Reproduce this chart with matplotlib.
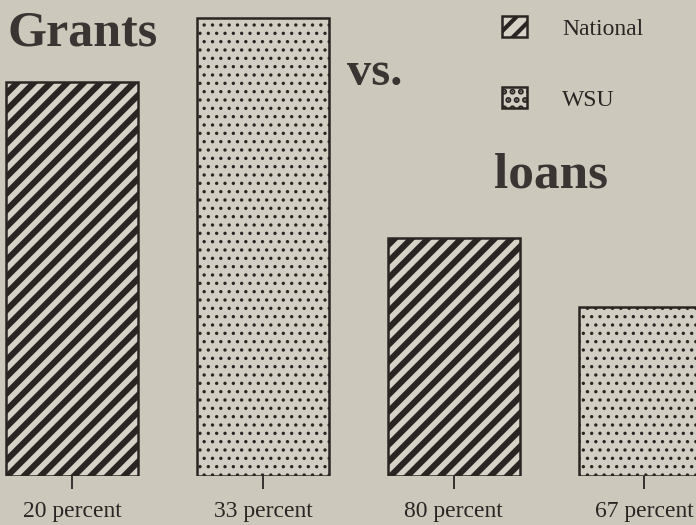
import matplotlib.pyplot as plt

# bar heights as drawn (relative scale, tallest = 100); labels give the percentages
labels = ['20 percent', '33 percent', '80 percent', '67 percent']
heights = [86, 100, 52, 37]
groups = ['National', 'WSU', 'National', 'WSU']

bg = '#cdc8bc'
ink = '#2a2523'
plt.rcParams['font.family'] = ['Liberation Serif', 'DejaVu Serif']
plt.rcParams['hatch.color'] = ink

fig = plt.figure(figsize=(6.96, 5.25), dpi=100, facecolor=bg)
ax = fig.add_axes([0, 49 / 525, 1, 1 - 49 / 525])
ax.set_facecolor(bg)

x = list(range(len(heights)))
handles = {}
for xi, h, g in zip(x, heights, groups):
    if g == 'National':
        plt.rcParams['hatch.linewidth'] = 4.4
        b = ax.bar(xi, h, width=0.69, color='#d6d2c8', edgecolor=ink,
                   linewidth=1.8, hatch='//')
    else:
        plt.rcParams['hatch.linewidth'] = 1.2
        b = ax.bar(xi, h, width=0.69, color='#d3cec3', edgecolor=ink,
                   linewidth=1.8, hatch='..')
    handles[g] = b

ax.set_xlim(-0.378, 3.27)
ax.set_ylim(0, 104)
for s in ax.spines.values():
    s.set_visible(False)
ax.set_yticks([])
ax.set_xticks(x)
ax.set_xticklabels(labels, fontsize=17, color='#2a2523')
ax.tick_params(axis='x', direction='out', length=9, width=1.3, pad=9,
               color=ink)

fig.text(8 / 696, 1 - 33 / 525, 'Grants', fontsize=36, fontweight='bold',
         color='#3a3532', va='center', ha='left')
fig.text(347 / 696, 1 - 73 / 525, 'vs.', fontsize=35, fontweight='bold',
         color='#3a3532', va='center', ha='left')
fig.text(494 / 696, 1 - 176 / 525, 'loans', fontsize=37, fontweight='bold',
         color='#3a3532', va='center', ha='left')

plt.rcParams['hatch.linewidth'] = 3.0
leg = ax.legend([handles['National'], handles['WSU']], ['National', 'WSU'],
                loc='upper left', bbox_to_anchor=(502 / 696, 1 - 16 / 476),
                bbox_transform=ax.transAxes, frameon=False, fontsize=17,
                handlelength=1.05, handleheight=1.0, labelspacing=2.0,
                handletextpad=1.5, borderaxespad=0, borderpad=0)
for t in leg.get_texts():
    t.set_color('#2a2523')

fig.savefig('out.png', dpi=100, facecolor=bg)
